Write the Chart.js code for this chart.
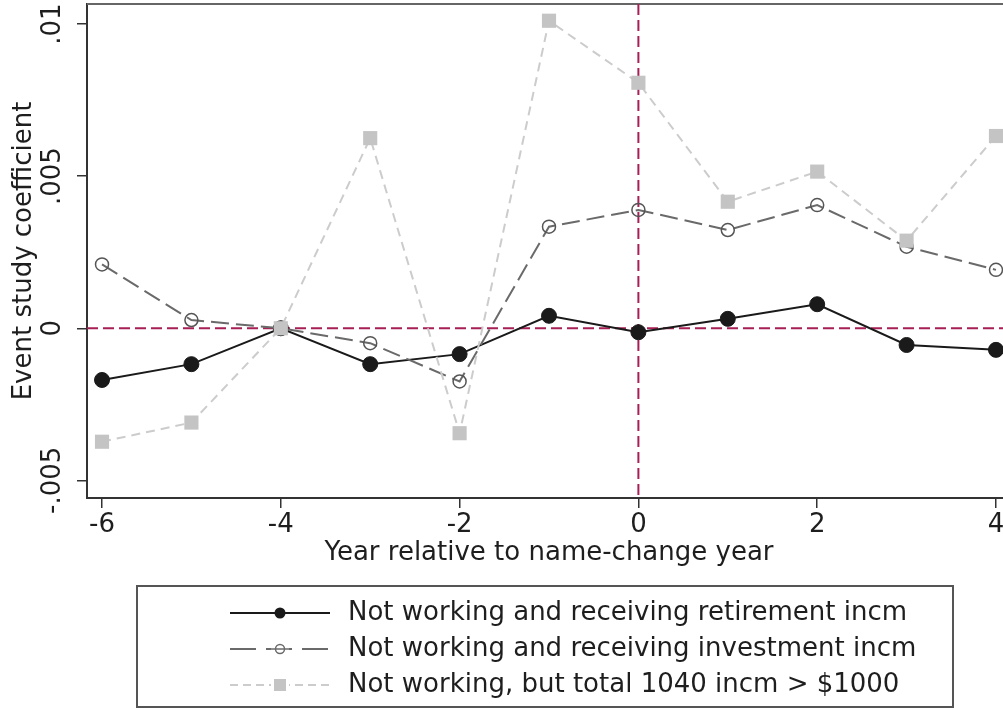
<!DOCTYPE html>
<html lang="en">
<head>
<meta charset="UTF-8">
<title>Event study coefficients</title>
<style>
    html, body {
        margin: 0;
        padding: 0;
        background: #fff;
        overflow: hidden;
    }
    .chart-box {
        width: 1012px;
        height: 710px;
    }
</style>
<script src="https://cdn.jsdelivr.net/npm/chart.js"></script>
</head>
<body>
<div class="chart-box"><canvas id="eventChart"></canvas></div>
<script>
// years relative to the name change (base year -4 normalised to 0)
const years = [-6, -5, -4, -3, -2, -1, 0, 1, 2, 3, 4];
const retirement = [-0.00170, -0.00118, 0, -0.00118, -0.00085, 0.00041, -0.00013, 0.00031, 0.00079, -0.00055, -0.00071];
const investment = [0.00210, 0.00027, 0, -0.00049, -0.00175, 0.00334, 0.00389, 0.00323, 0.00405, 0.00268, 0.00192];
const total1040 = [-0.00373, -0.00310, 0, 0.00625, -0.00345, 0.01011, 0.00807, 0.00416, 0.00515, 0.00288, 0.00632];

const seriesNames = [
    'Not working and receiving retirement incm',
    'Not working and receiving investment incm',
    'Not working, but total 1040 incm > $1000'
];

const xTicks = [-6, -4, -2, 0, 2, 4];
const yTicks = [-0.005, 0, 0.005, 0.01];
const yTickLabels = ['-.005', '0', '.005', '.01'];

const FONT = 'DejaVu Sans';
const TEXT = '#1e1e1e';
const REF_RED = '#a81f55';

const toPoints = vals => years.map((yr, i) => ({ x: yr, y: vals[i] }));

// small legend key: line segment with the marker in the middle
function legendKey(lineColor, dash, drawMarker) {
    const c = document.createElement('canvas');
    c.width = 100;
    c.height = 26;
    const g = c.getContext('2d');
    g.strokeStyle = lineColor;
    g.lineWidth = 2;
    g.setLineDash(dash);
    g.beginPath();
    g.moveTo(0, 13);
    g.lineTo(100, 13);
    g.stroke();
    g.setLineDash([]);
    drawMarker(g, 50, 13);
    return c;
}

const keys = [
    legendKey('#1a1a1a', [], (g, x, y) => {
        g.fillStyle = '#1a1a1a';
        g.beginPath(); g.arc(x, y, 5.5, 0, Math.PI * 2); g.fill();
    }),
    legendKey('#6a6a6a', [26, 10], (g, x, y) => {
        g.clearRect(x - 9, y - 7, 18, 14);
        g.strokeStyle = '#6a6a6a';
        g.lineWidth = 1.5;
        g.beginPath(); g.moveTo(x - 9, y); g.lineTo(x + 9, y); g.stroke();
        g.beginPath(); g.arc(x, y, 4.5, 0, Math.PI * 2); g.stroke();
    }),
    legendKey('#cccccc', [8, 5], (g, x, y) => {
        g.clearRect(x - 9, y - 7, 18, 14);
        g.fillStyle = '#c4c4c4';
        g.fillRect(x - 6, y - 6, 12, 12);
    })
];

// dashed reference lines at zero and the top edge of the plot region
const refLines = {
    id: 'refLines',
    beforeDatasetsDraw(chart) {
        const { ctx, chartArea: a, scales: { x, y } } = chart;
        const y0 = y.getPixelForValue(0);
        const x0 = x.getPixelForValue(0);
        ctx.save();
        ctx.strokeStyle = '#666';
        ctx.lineWidth = 2;
        ctx.beginPath();
        ctx.moveTo(a.left, a.top);
        ctx.lineTo(a.right, a.top);
        ctx.stroke();
        ctx.strokeStyle = REF_RED;
        ctx.setLineDash([11, 5]);
        ctx.beginPath();
        ctx.moveTo(a.left, y0);
        ctx.lineTo(a.right, y0);
        ctx.moveTo(x0, a.top);
        ctx.lineTo(x0, a.bottom);
        ctx.stroke();
        ctx.restore();
    }
};

// left-aligned legend inside a framed box
const legendFrame = {
    id: 'legendFrame',
    afterLayout(chart) {
        chart.legend.left = 215;
    },
    afterDraw(chart) {
        const lg = chart.legend;
        const ctx = chart.ctx;
        ctx.save();
        ctx.strokeStyle = '#555';
        ctx.lineWidth = 2;
        ctx.strokeRect(lg.left - 78, lg.top - 4, 816, lg.height + 3);
        ctx.restore();
    }
};

// keep the plot region at fixed margins, ignoring label overhang
function fixX(s) {
    s.height = 92;
    s.paddingLeft = 0;
    s.paddingRight = 0;
}
function fixY(s) {
    s.width = 87;
    s.paddingTop = 0;
    s.paddingBottom = 0;
}

const ctx = document.getElementById('eventChart').getContext('2d');

new Chart(ctx, {
    type: 'line',
    data: {
        datasets: [
            {
                label: seriesNames[0],
                data: toPoints(retirement),
                borderColor: '#1a1a1a',
                borderWidth: 2,
                pointStyle: 'circle',
                pointRadius: 7.5,
                pointBackgroundColor: '#1a1a1a',
                pointBorderColor: '#1a1a1a',
                pointBorderWidth: 1,
                order: 3
            },
            {
                label: seriesNames[1],
                data: toPoints(investment),
                borderColor: '#6a6a6a',
                borderWidth: 2,
                borderDash: [18, 7],
                pointStyle: 'circle',
                pointRadius: 6.5,
                pointBackgroundColor: 'rgba(0,0,0,0)',
                pointBorderColor: '#555',
                pointBorderWidth: 1.5,
                order: 2
            },
            {
                label: seriesNames[2],
                data: toPoints(total1040),
                borderColor: '#cccccc',
                borderWidth: 2,
                borderDash: [9, 6],
                pointStyle: 'rect',
                pointRadius: 10,
                pointBackgroundColor: '#c4c4c4',
                pointBorderColor: '#c4c4c4',
                pointBorderWidth: 0,
                order: 1
            }
        ]
    },
    options: {
        responsive: true,
        maintainAspectRatio: false,
        animation: false,
        layout: { autoPadding: false, padding: { top: 4, right: 1, bottom: 2, left: 0 } },
        elements: { line: { tension: 0 } },
        scales: {
            x: {
                type: 'linear',
                position: 'bottom',
                min: -6.168,
                max: 4.168,
                afterBuildTicks: s => { s.ticks = xTicks.map(v => ({ value: v })); },
                afterFit: fixX,
                grid: { drawOnChartArea: false, drawTicks: true, tickLength: 10, color: '#333', lineWidth: 1.5 },
                border: { color: '#333', width: 2 },
                ticks: {
                    color: TEXT,
                    padding: 4,
                    maxRotation: 0,
                    font: { family: FONT, size: 26, lineHeight: 1 },
                    callback: v => String(v)
                },
                title: {
                    display: true,
                    text: 'Year relative to name-change year',
                    color: TEXT,
                    font: { family: FONT, size: 26, lineHeight: 1 },
                    padding: { top: 0, bottom: 24 }
                }
            },
            y: {
                min: -0.00558,
                max: 0.01066,
                afterBuildTicks: s => { s.ticks = yTicks.map(v => ({ value: v })); },
                afterFit: fixY,
                grid: { drawOnChartArea: false, drawTicks: true, tickLength: 10, color: '#333', lineWidth: 1.5 },
                border: { color: '#333', width: 2 },
                ticks: {
                    color: TEXT,
                    padding: -10,
                    minRotation: 90,
                    maxRotation: 90,
                    crossAlign: 'center',
                    font: { family: FONT, size: 26, lineHeight: 1 },
                    callback: v => yTickLabels[yTicks.indexOf(v)]
                },
                title: {
                    display: true,
                    text: 'Event study coefficient',
                    color: TEXT,
                    font: { family: FONT, size: 26, lineHeight: 1 },
                    padding: { top: 11, bottom: 0 }
                }
            }
        },
        plugins: {
            tooltip: { enabled: false },
            legend: {
                position: 'bottom',
                align: 'start',
                labels: {
                    usePointStyle: true,
                    pointStyleWidth: 110,
                    padding: 10,
                    color: TEXT,
                    font: { family: FONT, size: 26 },
                    generateLabels: () => seriesNames.map((name, i) => ({
                        text: name,
                        pointStyle: keys[i],
                        fillStyle: 'transparent',
                        strokeStyle: 'transparent',
                        lineWidth: 0,
                        hidden: false,
                        fontColor: TEXT,
                        datasetIndex: i
                    }))
                }
            }
        }
    },
    plugins: [refLines, legendFrame]
});
</script>
</body>
</html>
